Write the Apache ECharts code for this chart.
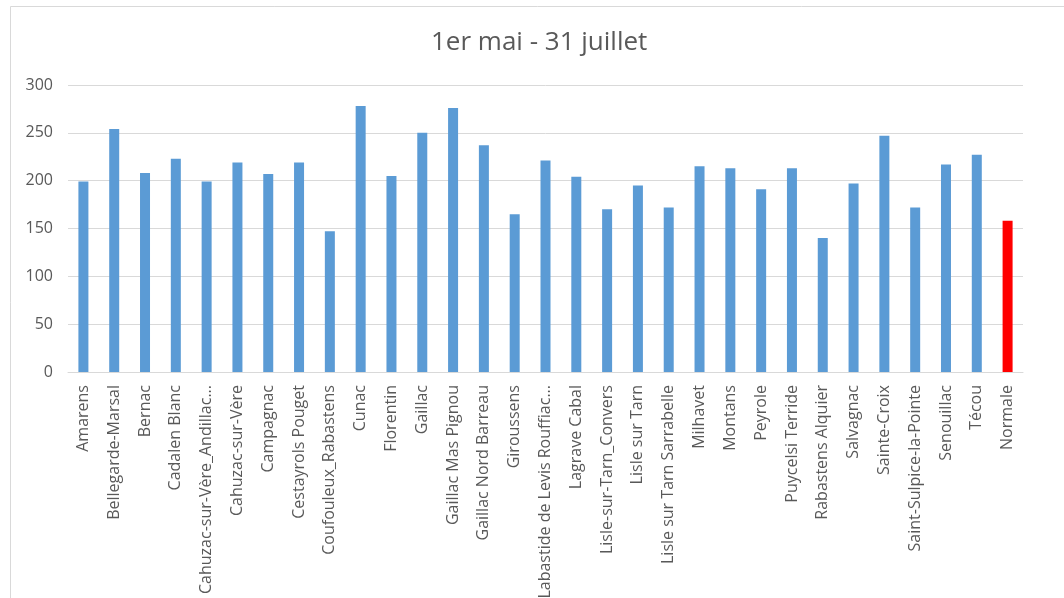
<!DOCTYPE html>
<html>
<head>
<meta charset="utf-8">
<script src="https://cdn.jsdelivr.net/npm/echarts@6/dist/echarts.min.js"></script>
<style>
  html, body { margin: 0; padding: 0; background: #fff; }
  #chart { width: 1064px; height: 598px; }
</style>
</head>
<body>
<div id="chart"></div>
<script>
const TITLE = '1er mai - 31 juillet'

const stations = [
  'Amarens', 'Bellegarde-Marsal', 'Bernac', 'Cadalen Blanc',
  'Cahuzac-sur-Vère_Andillac...', 'Cahuzac-sur-Vère', 'Campagnac',
  'Cestayrols Pouget', 'Coufouleux_Rabastens', 'Cunac', 'Florentin',
  'Gaillac', 'Gaillac Mas Pignou', 'Gaillac Nord Barreau', 'Giroussens',
  'Labastide de Levis Rouffiac...', 'Lagrave Cabal', 'Lisle-sur-Tarn_Convers',
  'Lisle sur Tarn', 'Lisle sur Tarn Sarrabelle', 'Milhavet', 'Montans',
  'Peyrole', 'Puycelsi Terride', 'Rabastens Alquier', 'Salvagnac',
  'Sainte-Croix', 'Saint-Sulpice-la-Pointe', 'Senouillac', 'Técou', 'Normale'
]

const cumul = [
  199, 254, 208, 223, 199, 219, 207, 219, 147, 278, 205,
  250, 276, 237, 165, 221, 204, 170, 195, 172, 215, 213,
  191, 213, 140, 197, 247, 172, 217, 227, 158
]

const highlight = 'Normale'

const yTicks = { min: 0, max: 300, interval: 50 }

const BLUE = '#5b9bd5'
const RED = '#ff0000'
const GREY_TEXT = '#595959'
const GREY_LINE = '#d9d9d9'

const chart = echarts.init(document.getElementById('chart'))

chart.setOption({
  animation: false,
  textStyle: { fontFamily: 'Open Sans' },
  graphic: [{
    type: 'rect',
    shape: { x: 10.5, y: 6.5, width: 1200, height: 700 },
    style: { fill: 'none', stroke: GREY_LINE, lineWidth: 1 },
    silent: true
  }],
  title: {
    text: TITLE,
    left: 426,
    top: 25,
    textStyle: { fontSize: 26, fontWeight: 'normal', color: GREY_TEXT, fontFamily: 'Open Sans' }
  },
  grid: { left: 68, right: 41, top: 85, bottom: 226, outerBoundsMode: 'none' },
  xAxis: {
    type: 'category',
    data: stations,
    axisLine: { lineStyle: { color: GREY_LINE } },
    axisTick: { show: false },
    axisLabel: {
      rotate: 90,
      interval: 0,
      margin: 13,
      fontSize: 16,
      color: GREY_TEXT
    }
  },
  yAxis: {
    type: 'value',
    min: yTicks.min,
    max: yTicks.max,
    interval: yTicks.interval,
    axisLine: { show: false },
    axisTick: { show: false },
    axisLabel: { fontSize: 16, color: GREY_TEXT, margin: 15 },
    splitLine: { lineStyle: { color: GREY_LINE } }
  },
  series: [{
    type: 'bar',
    barWidth: 10,
    data: cumul.map((v, i) => ({
      value: v,
      itemStyle: { color: stations[i] === highlight ? RED : BLUE }
    }))
  }]
})
</script>
</body>
</html>
